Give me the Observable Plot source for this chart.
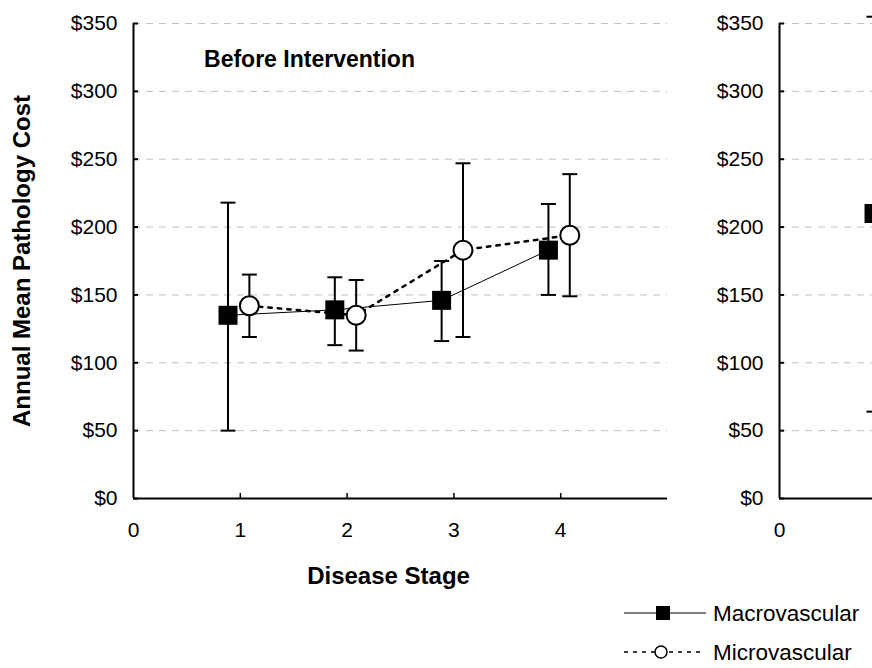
<!DOCTYPE html>
<html><head><meta charset="utf-8">
<script src="https://cdn.jsdelivr.net/npm/d3@7"></script>
<script src="https://cdn.jsdelivr.net/npm/@observablehq/plot@0.6"></script>
<style>
body{margin:0;background:#fff;}
#wrap{position:relative;width:872px;height:668px;overflow:hidden;background:#fff;font-family:"Liberation Sans",Arial,sans-serif;}
#left,#right,#legend{position:absolute;top:0;}
#left{left:0px;width:690px;height:668px}
#right{left:646px;width:690px;height:668px}
#legend{left:600px;top:590px;width:272px;height:78px}
svg{max-width:none !important;}
</style></head><body><div id="wrap"><div id="left"></div><div id="right"></div><div id="legend"></div></div>
<script>
// ---- data ----
const stages = [1, 2, 3, 4];
const macroBefore = [135, 139, 146, 183];
const macroBeforeLow = [50, 113, 116, 150];
const macroBeforeHigh = [218, 163, 175, 217];
const microBefore = [142, 135, 183, 194];
const microBeforeLow = [119, 109, 119, 149];
const microBeforeHigh = [165, 161, 247, 239];
const afterStages = [1];
const macroAfter = [210];
const macroAfterLow = [64];
const macroAfterHigh = [355];
const yTicks = [0, 50, 100, 150, 200, 250, 300, 350];
const xTicks = [0, 1, 2, 3, 4];
const afterXTickLabels = [0]; // only the first label of the cropped right panel is visible
const seriesNames = ["Macrovascular", "Microvascular"];
const panelTitles = ["Before Intervention"];
const xLabel = "Disease Stage";
const yLabel = "Annual Mean Pathology Cost";

// ---- helpers ----
const MACRO_SHIFT = -0.115, MICRO_SHIFT = 0.085;
function table(st, v, lo, hi, shift) {
  return st.map((s, i) => ({x: s + shift, v: v[i], lo: lo[i], hi: hi[i]}));
}
const squareSym = {draw(ctx) { const s = 9.5; ctx.moveTo(-s, -s); ctx.lineTo(s, -s); ctx.lineTo(s, s); ctx.lineTo(-s, s); ctx.closePath(); }};
const capSym = {draw(ctx) { ctx.moveTo(-7.5, 0); ctx.lineTo(7.5, 0); }};
const FONT = "'Liberation Sans', Arial, Helvetica, sans-serif";

function panel({macro, micro, title, labels, xLabels}) {
  const marks = [
    Plot.ruleY(yTicks.filter(d => d > 0), {stroke: "#c0c0c0", strokeWidth: 1, strokeDasharray: "7,6"}),
    Plot.axisY({ticks: yTicks, tickFormat: d => "$" + d, tickSize: 0, tickPadding: 16, fontSize: 21, label: null}),
    Plot.axisY({ticks: yTicks, tickFormat: () => "", tickSize: 5, dx: 5, strokeWidth: 2, label: null}),
    Plot.axisX({ticks: xLabels, tickFormat: d => String(d), tickSize: 0, tickPadding: 24, fontSize: 21, label: null}),
    Plot.axisX({ticks: xTicks.filter(d => d > 0), tickFormat: () => "", tickSize: 5, dy: -5, strokeWidth: 1.5, label: null}),
    Plot.ruleX([0], {stroke: "black", strokeWidth: 2}),
    Plot.ruleY([0], {stroke: "black", strokeWidth: 2})
  ];
  if (micro) marks.push(Plot.line(micro, {x: "x", y: "v", stroke: "black", strokeWidth: 2.5, strokeDasharray: "3.5,6"}));
  if (macro) marks.push(Plot.line(macro, {x: "x", y: "v", stroke: "black", strokeWidth: 1}));
  for (const t of [micro, macro]) {
    if (!t) continue;
    marks.push(Plot.ruleX(t, {x: "x", y1: "lo", y2: "hi", stroke: "black", strokeWidth: 2}));
    marks.push(Plot.dot(t, {x: "x", y: "lo", symbol: capSym, stroke: "black", strokeWidth: 2, fill: "none"}));
    marks.push(Plot.dot(t, {x: "x", y: "hi", symbol: capSym, stroke: "black", strokeWidth: 2, fill: "none"}));
  }
  if (micro) marks.push(Plot.dot(micro, {x: "x", y: "v", r: 9.5, fill: "white", stroke: "black", strokeWidth: 2}));
  if (macro) marks.push(Plot.dot(macro, {x: "x", y: "v", symbol: squareSym, fill: "black", stroke: "none"}));
  if (title) marks.push(Plot.text([title], {frameAnchor: "top-left", dx: 176, dy: 36, textAnchor: "middle", lineAnchor: "middle", fontSize: 23, fontWeight: "bold", fill: "black"}));
  if (labels) {
    marks.push(Plot.text([yLabel], {frameAnchor: "left", dx: -111, rotate: -90, textAnchor: "middle", lineAnchor: "middle", fontSize: 24, fontWeight: "bold", fill: "black"}));
    marks.push(Plot.text([xLabel], {frameAnchor: "bottom", dx: -12, dy: 78, textAnchor: "middle", lineAnchor: "middle", fontSize: 24, fontWeight: "bold", fill: "black"}));
  }
  return Plot.plot({
    width: 690, height: 668,
    marginTop: 23, marginBottom: 170, marginLeft: 133, marginRight: 23,
    x: {domain: [0, 5], axis: null},
    y: {domain: [0, 350], axis: null},
    style: {fontFamily: FONT, color: "black", background: "transparent", overflow: "visible", maxWidth: "none"},
    marks
  });
}

document.getElementById("left").appendChild(panel({
  macro: table(stages, macroBefore, macroBeforeLow, macroBeforeHigh, MACRO_SHIFT),
  micro: table(stages, microBefore, microBeforeLow, microBeforeHigh, MICRO_SHIFT),
  title: panelTitles[0], labels: true, xLabels: xTicks
}));
document.getElementById("right").appendChild(panel({
  macro: table(afterStages, macroAfter, macroAfterLow, macroAfterHigh, MACRO_SHIFT),
  micro: null, title: null, labels: false, xLabels: afterXTickLabels
}));

// ---- legend ----
const lg = d3.select("#legend").append("svg").attr("width", 272).attr("height", 78)
  .style("font-family", FONT).style("overflow", "visible");
const rows = [{name: seriesNames[0], y: 23, kind: "macro"}, {name: seriesNames[1], y: 62, kind: "micro"}];
for (const r of rows) {
  if (r.kind === "macro") {
    lg.append("line").attr("x1", 24).attr("x2", 106).attr("y1", r.y).attr("y2", r.y).attr("stroke", "black").attr("stroke-width", 1.2);
    lg.append("rect").attr("x", 56).attr("y", r.y - 7).attr("width", 14).attr("height", 14).attr("fill", "black");
  } else {
    lg.append("line").attr("x1", 24).attr("x2", 100).attr("y1", r.y).attr("y2", r.y).attr("stroke", "black").attr("stroke-width", 1.3).attr("stroke-dasharray", "4,5");
    lg.append("circle").attr("cx", 61).attr("cy", r.y).attr("r", 6).attr("fill", "white").attr("stroke", "black").attr("stroke-width", 1.5);
  }
  lg.append("text").attr("x", 113).attr("y", r.y).attr("dy", "0.35em").attr("font-size", 22.5).attr("fill", "black").text(r.name);
}
</script></body></html>
